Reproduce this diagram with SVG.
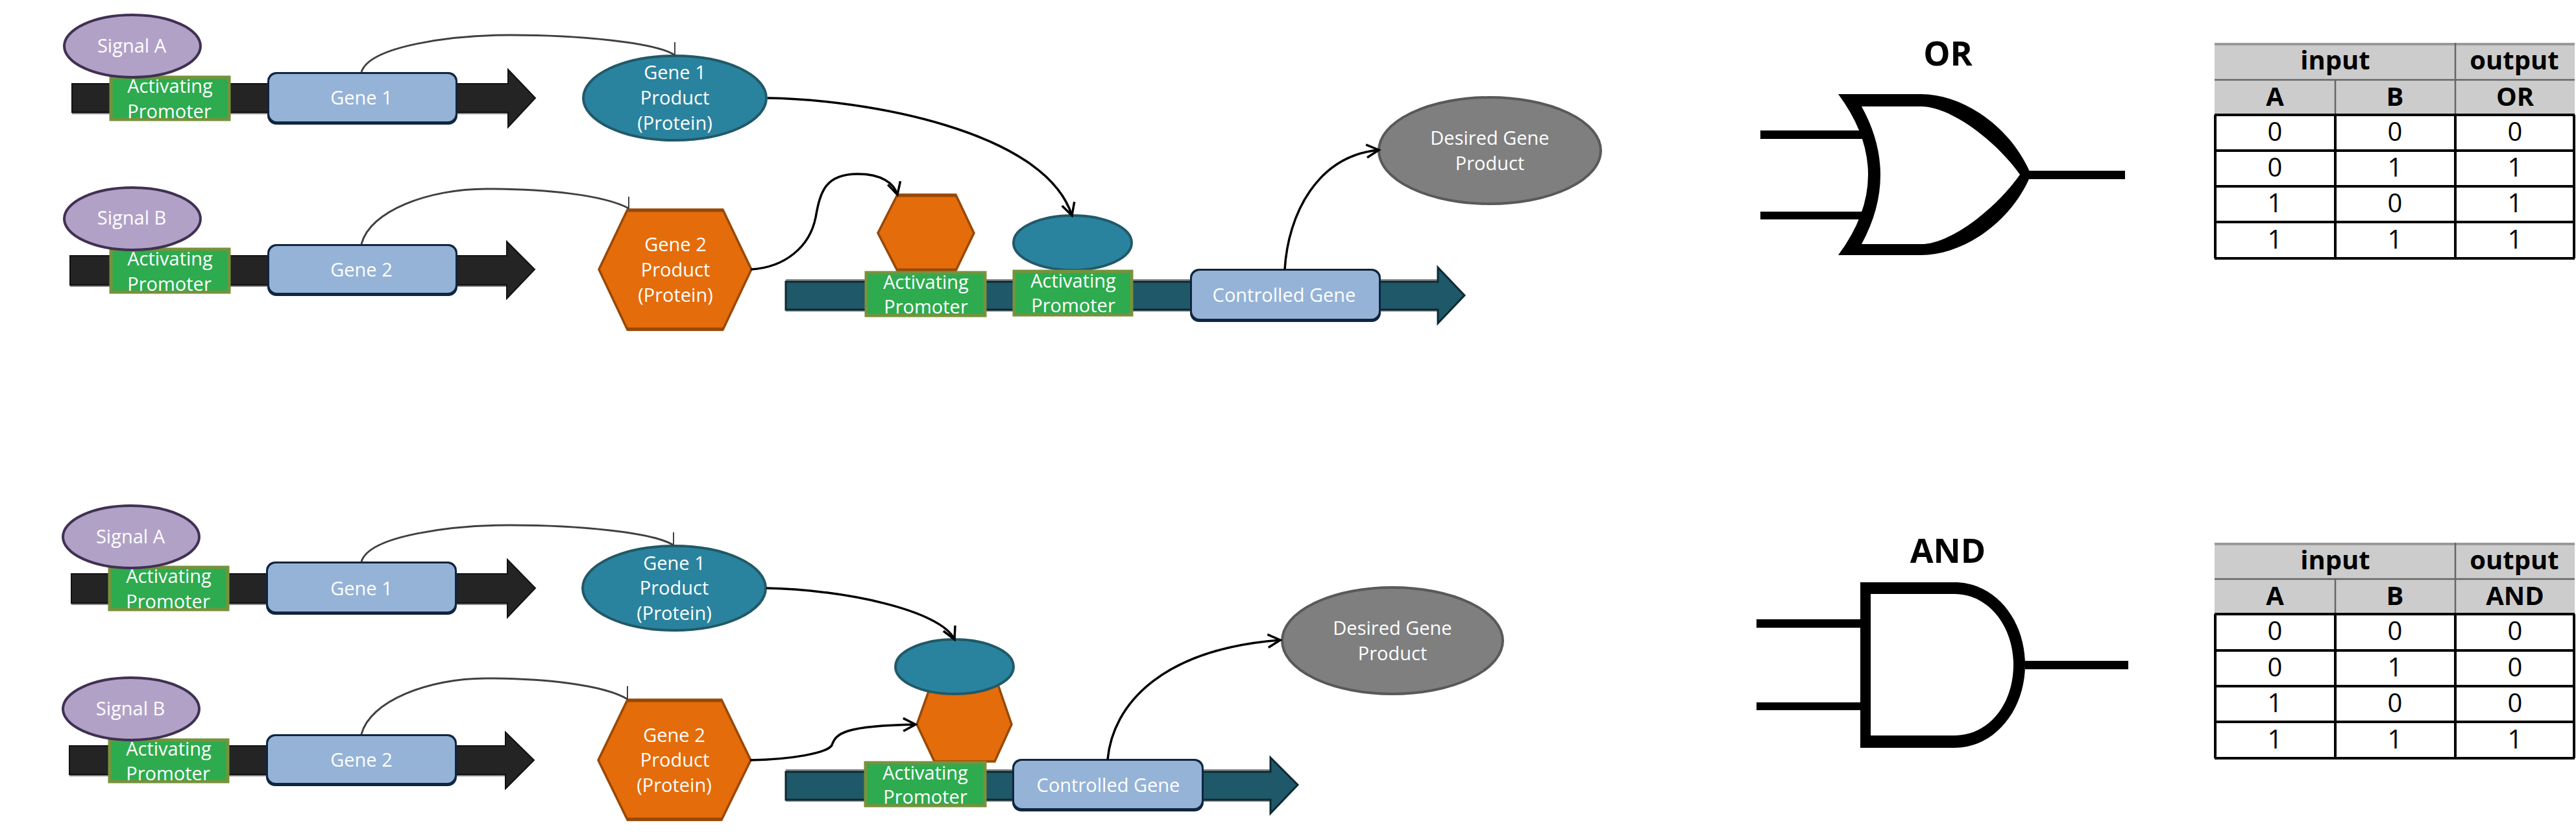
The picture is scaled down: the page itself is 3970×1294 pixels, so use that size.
<svg xmlns="http://www.w3.org/2000/svg" width="3970" height="1294" viewBox="0 0 3970 1294">
<style>
text{font-family:"Open Sans","Noto Sans","Liberation Sans",sans-serif;text-anchor:middle}
.l{font-size:29px;fill:#fff}
.h{font-size:40px;font-weight:700;fill:#000}
.d{font-size:40px;fill:#000}
.t{font-size:52px;font-weight:700;fill:#000}
.sig{fill:#b2a1c7;stroke:#403152;stroke-width:4}
.pro{fill:#2dab4e;stroke:#76923c;stroke-width:5}
.gb{fill:#10253f}
.gf{fill:#95b3d7}
.te{fill:#2a839e;stroke:#215968;stroke-width:4}
.or{fill:#e46c0a;stroke:#984807;stroke-width:3.5}
.orb{stroke:#984807;stroke-width:5;fill:none}
.dgp{fill:#7f7f7f;stroke:#595959;stroke-width:4}
.ka{fill:#242424;stroke:#111;stroke-width:2}
.ta{fill:#1f5868;stroke:#0c2a33;stroke-width:3}
.sh{stroke:#8a8a8a;stroke-width:3;fill:none}
.c1{fill:none;stroke:#404040;stroke-width:3}
.c2{fill:none;stroke:#000;stroke-width:3.5}
.tick{fill:none;stroke:#404040;stroke-width:2}
.hbg{fill:#ccc}
.thick{stroke:#000;stroke-width:4;fill:none}
.thin{stroke:#666;stroke-width:2.5;fill:none}
.top{stroke:#999;stroke-width:4;fill:none}
.blk{fill:#000;fill-rule:evenodd}
</style>
<defs>
<marker id="open" markerUnits="userSpaceOnUse" markerWidth="30" markerHeight="30" refX="25" refY="15" orient="auto" viewBox="0 0 30 30">
<path d="M6,5 L25,15 L6,25" fill="none" stroke="#000" stroke-width="3.5"/>
</marker>
</defs>

<!-- upper OR circuit -->
<g id="backbone-a1"><path class="sh" d="M111,174.5H783"/><polygon class="ka" points="111,129 783,129 783,107 825,151 783,196 783,173 111,173"/></g>
<g id="backbone-b1"><path class="sh" d="M108,440.5H781"/><polygon class="ka" points="108,394 781,394 781,372 824,415 781,460 781,439 108,439"/></g>
<g id="backbone-out1"><path class="sh" d="M1211,431.5H2216M1211,478.5H2216"/><polygon class="ta" points="1211,434 2216,434 2216,412 2257,455 2216,498 2216,477 1211,477"/></g>

<g id="promoter-a1"><rect class="pro" x="171" y="119" width="182" height="65"/><text class="l" x="262" y="143">Activating</text><text class="l" x="261" y="182">Promoter</text></g>
<g id="signal-a1"><ellipse class="sig" cx="204" cy="71" rx="105" ry="48"/><text class="l" x="203" y="81">Signal A</text></g>
<g id="gene1-a"><rect class="gb" x="412" y="111" width="293" height="81" rx="14"/><rect class="gf" x="415" y="114" width="287" height="73" rx="12"/><text class="l" x="557" y="161">Gene 1</text></g>
<g id="product1-a"><ellipse class="te" cx="1040" cy="151" rx="141" ry="65"/><text class="l" x="1040" y="122">Gene 1</text><text class="l" x="1040" y="161">Product</text><text class="l" x="1040" y="200">(Protein)</text></g>

<g id="promoter-b1"><rect class="pro" x="171" y="384" width="182" height="66"/><text class="l" x="262" y="409">Activating</text><text class="l" x="261" y="448">Promoter</text></g>
<g id="signal-b1"><ellipse class="sig" cx="204" cy="337" rx="105" ry="48"/><text class="l" x="203" y="346">Signal B</text></g>
<g id="gene2-a"><rect class="gb" x="412" y="376" width="293" height="80" rx="14"/><rect class="gf" x="415" y="379" width="287" height="72" rx="12"/><text class="l" x="557" y="426">Gene 2</text></g>
<g id="product2-a"><polygon class="or" points="967,323 1114,323 1158,415 1114,508 967,508 923,415"/><path class="orb" d="M967,324H1114M967,507H1114"/><text class="l" x="1041" y="387">Gene 2</text><text class="l" x="1041" y="426">Product</text><text class="l" x="1041" y="465">(Protein)</text></g>

<g id="bound-hex-1"><polygon class="or" points="1383,300 1473,300 1501,359 1473,417 1383,417 1353,359"/><path class="orb" d="M1383,301H1473M1383,416H1473"/></g>
<g id="bound-ell-1"><ellipse class="te" cx="1653" cy="374" rx="91" ry="42"/></g>
<g id="promoter-c1"><rect class="pro" x="1335" y="420" width="183" height="66"/><text class="l" x="1427" y="445">Activating</text><text class="l" x="1427" y="483">Promoter</text></g>
<g id="promoter-d1"><rect class="pro" x="1563" y="418" width="181" height="67"/><text class="l" x="1654" y="443">Activating</text><text class="l" x="1654" y="481">Promoter</text></g>
<g id="controlled-1"><rect class="gb" x="1834" y="414" width="294" height="82" rx="14"/><rect class="gf" x="1837" y="417" width="288" height="74" rx="12"/><text class="l" x="1979" y="465">Controlled Gene</text></g>
<g id="desired-1"><ellipse class="dgp" cx="2296" cy="232" rx="171" ry="82"/><text class="l" x="2296" y="223">Desired Gene</text><text class="l" x="2296" y="262">Product</text></g>

<!-- lower AND circuit -->
<g id="backbone-a2"><path class="sh" d="M110,930.5H782"/><polygon class="ka" points="110,884 782,884 782,862 825,906 782,951 782,929 110,929"/></g>
<g id="backbone-b2"><path class="sh" d="M107,1194.5H779"/><polygon class="ka" points="107,1149 779,1149 779,1128 823,1171 779,1215 779,1193 107,1193"/></g>
<g id="backbone-out2"><path class="sh" d="M1211,1186.5H1958M1211,1233.5H1958"/><polygon class="ta" points="1211,1189 1958,1189 1958,1167 2000,1209 1958,1253 1958,1232 1211,1232"/></g>

<g id="promoter-a2"><rect class="pro" x="169" y="874" width="182" height="65"/><text class="l" x="260" y="898">Activating</text><text class="l" x="259" y="937">Promoter</text></g>
<g id="signal-a2"><ellipse class="sig" cx="202" cy="827" rx="105" ry="48"/><text class="l" x="201" y="837">Signal A</text></g>
<g id="gene1-b"><rect class="gb" x="410" y="865" width="294" height="82" rx="14"/><rect class="gf" x="413" y="868" width="288" height="74" rx="12"/><text class="l" x="557" y="917">Gene 1</text></g>
<g id="product1-b"><ellipse class="te" cx="1039" cy="906" rx="141" ry="65"/><text class="l" x="1039" y="878">Gene 1</text><text class="l" x="1039" y="916">Product</text><text class="l" x="1039" y="955">(Protein)</text></g>

<g id="promoter-b2"><rect class="pro" x="169" y="1140" width="182" height="64"/><text class="l" x="260" y="1164">Activating</text><text class="l" x="259" y="1202">Promoter</text></g>
<g id="signal-b2"><ellipse class="sig" cx="202" cy="1092" rx="105" ry="48"/><text class="l" x="201" y="1102">Signal B</text></g>
<g id="gene2-b"><rect class="gb" x="410" y="1131" width="294" height="80" rx="14"/><rect class="gf" x="413" y="1134" width="288" height="72" rx="12"/><text class="l" x="557" y="1181">Gene 2</text></g>
<g id="product2-b"><polygon class="or" points="967,1078 1112,1078 1157,1171 1112,1263 967,1263 922,1171"/><path class="orb" d="M967,1079H1112M967,1262H1112"/><text class="l" x="1039" y="1143">Gene 2</text><text class="l" x="1040" y="1181">Product</text><text class="l" x="1039" y="1220">(Protein)</text></g>

<g id="bound-hex-2"><polygon class="or" points="1440,1040 1533,1040 1559,1116 1533,1173 1440,1173 1413,1116"/></g>
<g id="bound-ell-2"><ellipse class="te" cx="1471" cy="1027" rx="91" ry="42"/></g>
<g id="promoter-c2"><rect class="pro" x="1334" y="1175" width="184" height="66"/><text class="l" x="1426" y="1201">Activating</text><text class="l" x="1426" y="1238">Promoter</text></g>
<g id="controlled-2"><rect class="gb" x="1560" y="1169" width="295" height="81" rx="14"/><rect class="gf" x="1563" y="1172" width="289" height="73" rx="12"/><text class="l" x="1708" y="1220">Controlled Gene</text></g>
<g id="desired-2"><ellipse class="dgp" cx="2146" cy="987" rx="170" ry="82"/><text class="l" x="2146" y="978">Desired Gene</text><text class="l" x="2146" y="1017">Product</text></g>

<!-- connectors -->
<g id="connectors">
<path class="c1" d="M557,111C570,70 700,54 787,54C890,54 1010,65 1040,85"/><path class="tick" d="M1040,65V86"/>
<path class="c1" d="M557,376C570,325 660,291 749,291C840,291 930,300 969,321"/><path class="tick" d="M969,303V322"/>
<path class="c2" marker-end="url(#open)" d="M1183,151C1330,153 1610,200 1652,332"/>
<path class="c2" marker-end="url(#open)" d="M1157,415C1210,412 1248,380 1257,335C1264,295 1272,268 1322,268C1358,268 1378,282 1383,300"/>
<path class="c2" marker-end="url(#open)" d="M1980,415C1985,330 2030,240 2125,231"/>
<path class="c1" d="M557,865C570,824 700,809 787,809C890,809 1008,820 1038,840"/><path class="tick" d="M1038,820V841"/>
<path class="c1" d="M557,1131C570,1080 660,1045 749,1045C840,1045 930,1055 967,1077"/><path class="tick" d="M967,1057V1078"/>
<path class="c2" marker-end="url(#open)" d="M1181,906C1300,908 1450,940 1471,985"/>
<path class="c2" marker-end="url(#open)" d="M1156,1171C1220,1170 1275,1160 1282,1148C1288,1130 1300,1118 1411,1116"/>
<path class="c2" marker-end="url(#open)" d="M1707,1170C1715,1085 1790,1000 1973,986"/>
</g>

<!-- OR gate -->
<g id="or-gate">
<text class="t" x="3002" y="101">OR</text>
<rect x="2713" y="201" width="164" height="13"/><rect x="2713" y="326" width="164" height="12"/><rect x="3121" y="263" width="154" height="13"/>
<path class="blk" d="M2833,145L2961,145C3025,145 3100,195 3130,269C3100,343 3025,393 2961,393L2833,393Q2925,269 2833,145ZM2869,164Q2927,269 2869,376L2961,376C3005,376 3075,323 3113,269C3075,215 3005,164 2961,164Z"/>
</g>

<!-- OR table -->
<g id="or-table">
<rect class="hbg" x="3413" y="66" width="555" height="111"/>
<path class="top" d="M3413,68H3968"/>
<path class="thin" d="M3413,123H3968M3599,123V177M3784,66V177"/>
<path class="thick" d="M3413,177H3968M3413,232H3968M3413,287H3968M3413,342H3968M3413,398H3968M3414,177V398M3599,177V398M3784,177V398M3967,177V398"/>
<text class="h" x="3599" y="107">input</text><text class="h" x="3875" y="107">output</text>
<text class="h" x="3506" y="163">A</text><text class="h" x="3691" y="163">B</text><text class="h" x="3876" y="163">OR</text>
<text class="d" x="3506" y="217">0</text><text class="d" x="3691" y="217">0</text><text class="d" x="3876" y="217">0</text>
<text class="d" x="3506" y="272">0</text><text class="d" x="3691" y="272">1</text><text class="d" x="3876" y="272">1</text>
<text class="d" x="3506" y="327">1</text><text class="d" x="3691" y="327">0</text><text class="d" x="3876" y="327">1</text>
<text class="d" x="3506" y="383">1</text><text class="d" x="3691" y="383">1</text><text class="d" x="3876" y="383">1</text>
</g>

<!-- AND gate -->
<g id="and-gate">
<text class="t" x="3002" y="867">AND</text>
<rect x="2707" y="954" width="162" height="13"/><rect x="2707" y="1082" width="162" height="12"/><rect x="3121" y="1018" width="159" height="13"/>
<path class="blk" d="M2867,897L3012,897C3075,897 3121,955 3121,1024C3121,1093 3075,1152 3012,1152L2867,1152ZM2883,915L2883,1133L3012,1133C3065,1133 3103,1085 3103,1024C3103,965 3065,915 3012,915Z"/>
</g>

<!-- AND table -->
<g id="and-table">
<rect class="hbg" x="3413" y="836" width="555" height="110"/>
<path class="top" d="M3413,838H3968"/>
<path class="thin" d="M3413,892H3968M3599,892V946M3784,836V946"/>
<path class="thick" d="M3413,946H3968M3413,1002H3968M3413,1057H3968M3413,1112H3968M3413,1168H3968M3414,946V1168M3599,946V1168M3784,946V1168M3967,946V1168"/>
<text class="h" x="3599" y="877">input</text><text class="h" x="3875" y="877">output</text>
<text class="h" x="3506" y="932">A</text><text class="h" x="3691" y="932">B</text><text class="h" x="3876" y="932">AND</text>
<text class="d" x="3506" y="986">0</text><text class="d" x="3691" y="986">0</text><text class="d" x="3876" y="986">0</text>
<text class="d" x="3506" y="1042">0</text><text class="d" x="3691" y="1042">1</text><text class="d" x="3876" y="1042">0</text>
<text class="d" x="3506" y="1097">1</text><text class="d" x="3691" y="1097">0</text><text class="d" x="3876" y="1097">0</text>
<text class="d" x="3506" y="1153">1</text><text class="d" x="3691" y="1153">1</text><text class="d" x="3876" y="1153">1</text>
</g>
</svg>
